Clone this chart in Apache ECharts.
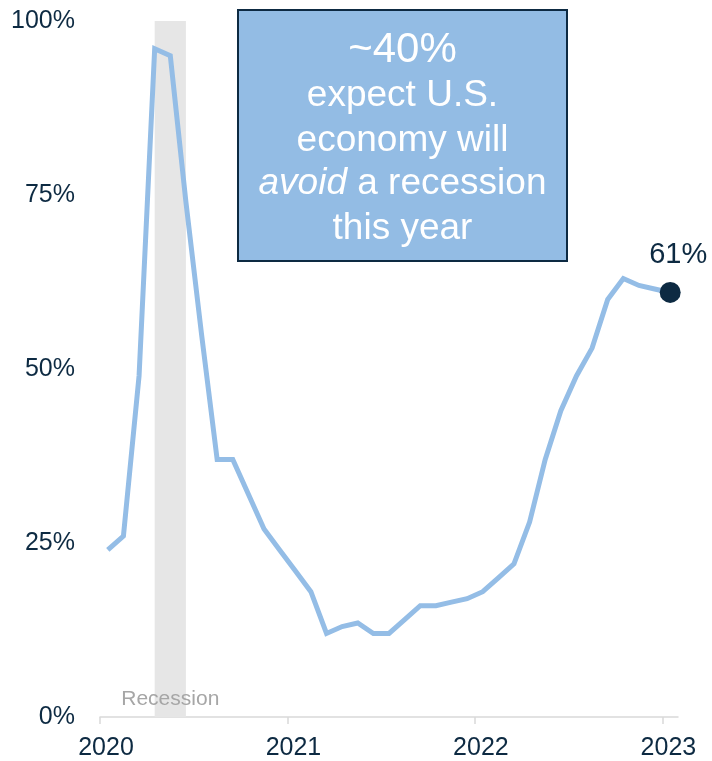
<!DOCTYPE html>
<html>
<head>
<meta charset="utf-8">
<script src="https://cdn.jsdelivr.net/npm/echarts@6/dist/echarts.min.js"></script>
<style>
  html, body { margin: 0; padding: 0; background: #ffffff; }
  #chart { width: 712px; height: 761px; }
</style>
</head>
<body>
<div id="chart"></div>
<script>
// Monthly survey share (%) expecting a U.S. recession in the coming year
const months = [
  '2020-01','2020-02','2020-03','2020-04','2020-05','2020-06','2020-07','2020-08','2020-09','2020-10','2020-11','2020-12',
  '2021-01','2021-02','2021-03','2021-04','2021-05','2021-06','2021-07','2021-08','2021-09','2021-10','2021-11','2021-12',
  '2022-01','2022-02','2022-03','2022-04','2022-05','2022-06','2022-07','2022-08','2022-09','2022-10','2022-11','2022-12',
  '2023-01'
];
const recessionShare = [
  24, 26, 49, 96, 95, 74, 55, 37, 37, 32, 27, 24,
  21, 18, 12, 13, 13.5, 12, 12, 14, 16, 16, 16.5, 17,
  18, 20, 22, 28, 37, 44, 49, 53, 60, 63, 62, 61.5,
  61
];
const yearLabels = ['2020', '2021', '2022', '2023'];
const yTicks = [0, 25, 50, 75, 100];
const recessionSpan = ['2020-04', '2020-06'];
const calloutLines = ['~40%', 'expect U.S.', 'economy will', '{it|avoid} a recession', 'this year'];

const FONT = "'Liberation Sans', Arial, sans-serif";
const NAVY = '#0d2a42';
const LINE_BLUE = '#94bde6';

// month string -> position on the month axis (points sit mid-month)
function monthPos(m) {
  const [y, mo] = m.split('-').map(Number);
  return (y - 2020) * 12 + (mo - 1) + 0.5;
}

const seriesData = months.map((m, i) => [monthPos(m), recessionShare[i]]);
const lastPoint = seriesData[seriesData.length - 1];

const chart = echarts.init(document.getElementById('chart'), null, { renderer: 'canvas' });

const boxX = 238, boxY = 10, boxW = 329, boxH = 251;
const cx = boxX + boxW / 2;
const lineCenters = [50, 96, 141, 184, 229];

chart.setOption({
  animation: false,
  backgroundColor: '#ffffff',
  grid: { left: 100, right: 34, top: 21, bottom: 44, containLabel: false },
  xAxis: {
    type: 'value',
    min: 0,
    max: 37,
    interval: 12,
    axisLine: { show: true, lineStyle: { color: '#d9d9d9', width: 1.5 } },
    axisTick: { show: true, length: 7, lineStyle: { color: '#d9d9d9', width: 1.5 } },
    splitLine: { show: false },
    axisLabel: {
      margin: 19,
      padding: [0, 0, 0, 12],
      color: NAVY,
      fontSize: 25,
      fontFamily: FONT,
      formatter: v => yearLabels[Math.round(v / 12)] || ''
    }
  },
  yAxis: {
    type: 'value',
    min: yTicks[0],
    max: yTicks[yTicks.length - 1],
    interval: 25,
    axisLine: { show: false },
    axisTick: { show: false },
    splitLine: { show: false },
    axisLabel: {
      margin: 25,
      color: NAVY,
      fontSize: 25,
      fontFamily: FONT,
      formatter: v => v + '%'
    }
  },
  series: [
    {
      type: 'line',
      data: seriesData,
      symbol: 'none',
      z: 3,
      lineStyle: { color: LINE_BLUE, width: 5, join: 'miter' },
      markArea: {
        silent: true,
        itemStyle: { color: '#e6e6e6' },
        label: {
          show: true,
          position: 'insideBottom',
          distance: 7,
          color: '#a6a6a6',
          fontSize: 21,
          fontFamily: FONT
        },
        data: [[
          { name: 'Recession', xAxis: monthPos(recessionSpan[0]), yAxis: 0 },
          { xAxis: monthPos(recessionSpan[1]), yAxis: 100 }
        ]]
      }
    },
    {
      type: 'scatter',
      data: [lastPoint],
      symbol: 'circle',
      symbolSize: 21,
      z: 4,
      itemStyle: { color: NAVY, opacity: 1 },
      label: {
        show: true,
        position: 'top',
        distance: 12,
        offset: [8, 0],
        color: NAVY,
        fontSize: 29,
        fontFamily: FONT,
        formatter: p => p.value[1] + '%'
      }
    }
  ],
  graphic: [
    {
      type: 'rect',
      z: 10,
      shape: { x: boxX, y: boxY, width: boxW, height: boxH },
      style: { fill: '#93bce4', stroke: NAVY, lineWidth: 2 }
    },
    ...calloutLines.map((t, i) => ({
      type: 'text',
      z: 11,
      x: cx,
      y: lineCenters[i],
      style: {
        text: t,
        fill: '#ffffff',
        font: (i === 0 ? 42 : 37) + 'px ' + FONT,
        align: 'center',
        verticalAlign: 'middle',
        rich: {
          it: { fontStyle: 'italic', fontSize: 37, fontFamily: FONT, fill: '#ffffff', color: '#ffffff' }
        }
      }
    }))
  ]
});
</script>
</body>
</html>
